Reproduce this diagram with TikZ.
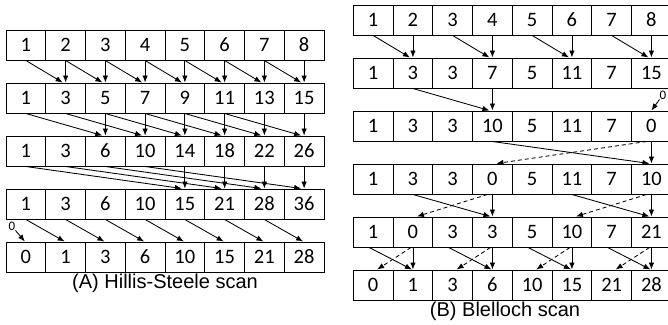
\documentclass[tikz,border=0pt]{standalone}
\usepackage{fontspec}
\setmainfont{Carlito}
\newfontfamily\capfont{Liberation Sans}
\newfontfamily\numfont{Carlito}
\usetikzlibrary{arrows.meta}
\begin{document}
\begin{tikzpicture}[x=1pt,y=-1pt,
 cell/.style={draw, line width=1pt, minimum width=39.75pt, minimum height=30pt, inner sep=0pt, font=\numfont\fontsize{20.5pt}{22pt}\selectfont},
 arr/.style={-{Latex[length=7pt,width=5.5pt]}, line width=0.85pt},
 darr/.style={arr, dash pattern=on 4pt off 3pt},
 zlab/.style={inner sep=0pt, font=\numfont\fontsize{13pt}{14pt}\selectfont},
 captext/.style={font=\capfont\fontsize{20pt}{22pt}\selectfont, inner sep=0pt}]
\useasboundingbox (0,0) rectangle (668,324);
\clip (0,0) rectangle (668,324);

% ---------- (A) Hillis-Steele ----------
\foreach \row [count=\r from 0] in {{1,2,3,4,5,6,7,8},{1,3,5,7,9,11,13,15},{1,3,6,10,14,18,22,26},{1,3,6,10,15,21,28,36},{0,1,3,6,10,15,21,28}}{
  \foreach \v [count=\c from 0] in \row {
    \node[cell] (L\r-\c) at ({6+39.75*(\c+0.5)},{45+53*\r}) {\v};
  }
}
% row 0 -> 1
\foreach \i [evaluate=\i as \j using int(\i+1)] in {0,...,6}
  \draw[arr] (L0-\i.south) -- ([xshift=-3pt]L1-\j.north);
\foreach \i in {1,...,7}
  \draw[arr] (L0-\i.south) -- (L1-\i.north);
% row 1 -> 2
\foreach \i [evaluate=\i as \j using int(\i+2)] in {0,...,5}
  \draw[arr] (L1-\i.south) -- ([xshift=-3pt]L2-\j.north);
\foreach \i in {2,...,7}
  \draw[arr] (L1-\i.south) -- (L2-\i.north);
% row 2 -> 3
\foreach \i [evaluate=\i as \j using int(\i+4)] in {0,...,3}
  \draw[arr] (L2-\i.south) -- ([xshift=-3pt]L3-\j.north);
\foreach \i in {4,...,7}
  \draw[arr] (L2-\i.south) -- (L3-\i.north);
% row 3 -> 4 (shift)
\foreach \i [evaluate=\i as \j using int(\i+1)] in {0,...,6}
  \draw[arr] (L3-\i.south) -- ([xshift=-1pt]L4-\j.north);
\node[zlab] (zA) at (12,226) {0};
\draw[arr] (zA.south east) -- ([xshift=-1pt]L4-0.north);
\node[captext] (capA) at (165,283) {(A) Hillis-Steele scan};

% ---------- (B) Blelloch ----------
\foreach \row [count=\r from 0] in {{1,2,3,4,5,6,7,8},{1,3,3,7,5,11,7,15},{1,3,3,10,5,11,7,0},{1,3,3,0,5,11,7,10},{1,0,3,3,5,10,7,21},{0,1,3,6,10,15,21,28}}{
  \foreach \v [count=\c from 0] in \row {
    \node[cell] (R\r-\c) at ({353.3+39.75*(\c+0.5)},{20+53*\r}) {\v};
  }
}
% up-sweep
\foreach \i/\j in {0/1,2/3,4/5,6/7}
  \draw[arr] (R0-\i.south) -- ([xshift=-3pt]R1-\j.north);
\foreach \i in {1,3,5,7}
  \draw[arr] (R0-\i.south) -- (R1-\i.north);
\draw[arr] (R1-1.south) -- ([xshift=-3pt]R2-3.north);
\draw[arr] (R1-3.south) -- (R2-3.north);
\node[zlab] (zB) at (663,95) {0};
\draw[arr] (zB.south west) -- (R2-7.north);
% down-sweep
\draw[arr] (R2-3.south) -- ([xshift=-2pt]R3-7.north);
\draw[darr] ([xshift=-5pt]R2-7.south) -- ([xshift=4pt]R3-3.north);
\draw[arr] (R2-7.south) -- (R3-7.north);
\foreach \i/\j in {1/3,5/7}{
  \draw[arr] (R3-\i.south) -- ([xshift=-2pt]R4-\j.north);
  \draw[darr] ([xshift=-5pt]R3-\j.south) -- ([xshift=4pt]R4-\i.north);
  \draw[arr] (R3-\j.south) -- (R4-\j.north);
}
\foreach \i/\j in {0/1,2/3,4/5,6/7}{
  \draw[arr] ([xshift=-4pt]R4-\i.south) -- ([xshift=-1pt]R5-\j.north);
  \draw[darr] ([xshift=-2pt]R4-\j.south) -- ([xshift=4pt]R5-\i.north);
  \draw[arr] (R4-\j.south) -- (R5-\j.north);
}
\node[captext] (capB) at (505,311) {(B) Blelloch scan};
\end{tikzpicture}
\end{document}
